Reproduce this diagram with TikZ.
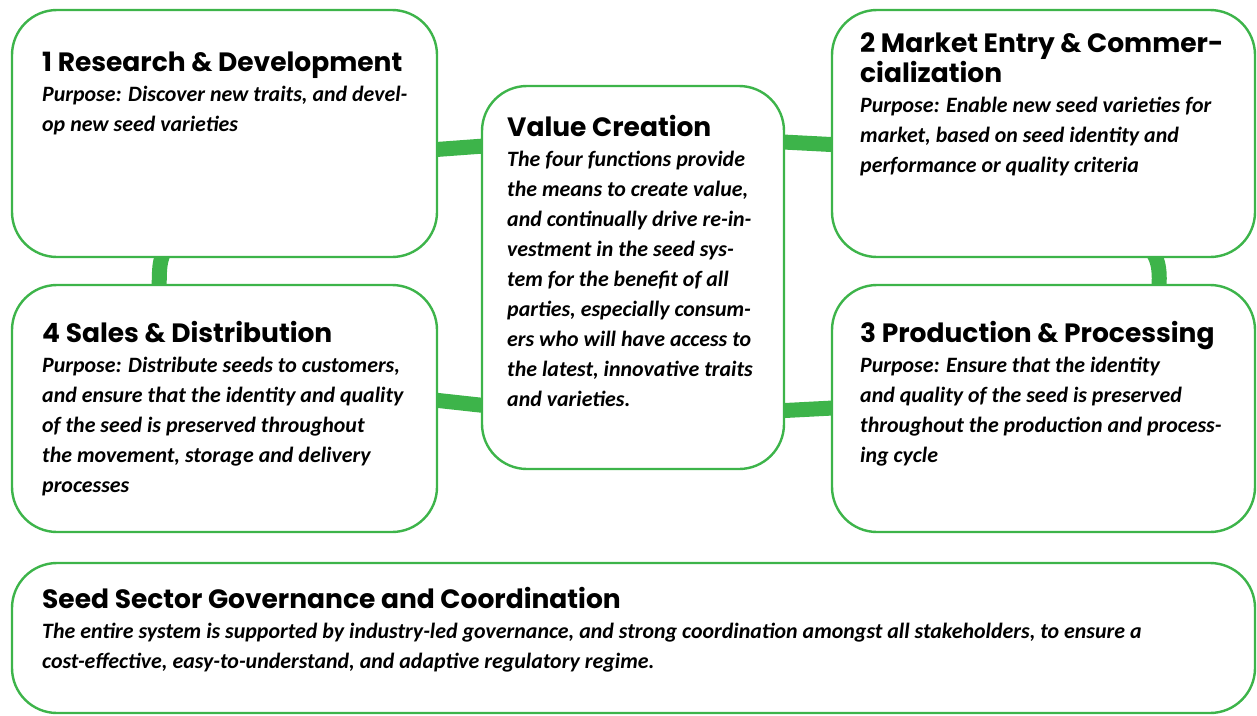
\documentclass[tikz,border=0pt]{standalone}
\usepackage{fontspec}
\newfontfamily\hdfont{Poppins}
\newfontfamily\bdfont{Carlito}
\usetikzlibrary{calc,backgrounds}
\definecolor{sgreen}{RGB}{61,180,74}
\newcommand\hd{\hdfont\bfseries\fontsize{26.5}{30}\selectfont}
\newcommand\bd{\bdfont\itshape\fontsize{21.9}{30}\selectfont}
\tikzset{
  box/.style={draw=sgreen, line width=2.4pt, fill=white, rounded corners=45pt,
    inner sep=0pt, minimum width=#1},
  conn/.style={draw=sgreen, line width=15pt},
  txt/.style={inner sep=0pt, anchor=base west, text=black}
}
\begin{document}
\begin{tikzpicture}[x=1pt,y=-1pt]
\useasboundingbox (0,0) rectangle (1257,715);
% boxes
\node[box=425pt, minimum height=247pt] (b1) at (224.5,133.5) {};
\node[box=425pt, minimum height=247pt] (b4) at (224.5,408.5) {};
\node[box=423pt, minimum height=247pt] (b2) at (1043.5,133.5) {};
\node[box=423pt, minimum height=247pt] (b3) at (1043.5,408.5) {};
\node[box=302pt, minimum height=383pt] (vc) at (633,277.5) {};
\node[box=1243pt, minimum height=150pt] (gv) at (633.5,638) {};
% connectors
\begin{scope}[on background layer]
\draw[conn] ($(b1.north east)+(-6,141)$) -- ($(vc.north west)+(6,61)$);
\draw[conn] ($(b4.north east)+(-6,116)$) -- ($(vc.north west)+(6,321)$);
\draw[conn] ($(vc.north east)+(-6,57)$) -- ($(b2.north west)+(6,136)$);
\draw[conn] ($(vc.north east)+(-6,326)$) -- ($(b3.north west)+(6,124)$);
\draw[conn] ($(b1.south west)+(153,-6)$) .. controls (158,265) and (160,275) .. ($(b4.north west)+(148,6)$);
\draw[conn] ($(b2.south west)+(322,-6)$) .. controls (1159,262) and (1160,272) .. ($(b3.north west)+(328,6)$);
\end{scope}
% texts
\node[txt] (t1) at (42,71) {\parbox[t]{400pt}{\hd 1 Research \& Development\\
\bd Purpose: Discover new traits, and devel-\\
op new seed varieties}};
\node[txt] (t2) at (860,52) {\parbox[t]{400pt}{\hd 2 Market Entry \& Commer-\\
cialization\\
\bd Purpose: Enable new seed varieties for\\
market, based on seed identity and\\
performance or quality criteria}};
\node[txt] (tv) at (507,136) {\parbox[t]{280pt}{\hd Value Creation\\
\bd The four functions provide\\
the means to create value,\\
and continually drive re-in-\\
vestment in the seed sys-\\
tem for the benefit of all\\
parties, especially consum-\\
ers who will have access to\\
the latest, innovative traits\\
and varieties.}};
\node[txt] (t4) at (42,342) {\parbox[t]{400pt}{\hd 4 Sales \& Distribution\\
\bd Purpose: Distribute seeds to customers,\\
and ensure that the identity and quality\\
of the seed is preserved throughout\\
the movement, storage and delivery\\
processes}};
\node[txt] (t3) at (860,342) {\parbox[t]{400pt}{\hd 3 Production \& Processing\\
\bd Purpose: Ensure that the identity\\
and quality of the seed is preserved\\
throughout the production and process-\\
ing cycle}};
\node[txt] (tg) at (42,608) {\parbox[t]{1200pt}{\hd Seed Sector Governance and Coordination\\
\bd The entire system is supported by industry-led governance, and strong coordination amongst all stakeholders, to ensure a\\
cost-effective, easy-to-understand, and adaptive regulatory regime.}};
\end{tikzpicture}
\end{document}
